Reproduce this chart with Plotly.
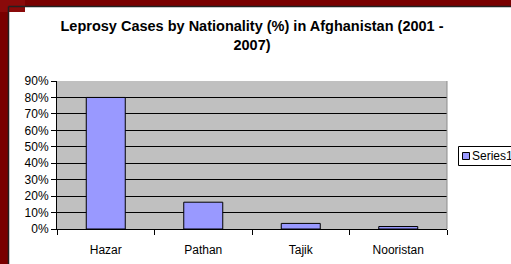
import plotly.graph_objects as go

categories = ["Hazar", "Pathan", "Tajik", "Nooristan"]
values = [0.80, 0.163, 0.034, 0.015]
series_name = "Series1"
y_ticks = [0, 0.1, 0.2, 0.3, 0.4, 0.5, 0.6, 0.7, 0.8, 0.9]

W, H = 511, 264
L, R, T, B = 57, 64, 81, 35
pw, ph = W - L - R, H - T - B

def px_x(x):
    return (x - L) / pw

def px_y(y):
    return (H - B - y) / ph

fig = go.Figure()
fig.add_trace(go.Bar(
    x=categories, y=values, name=series_name,
    marker=dict(color="#9999ff", line=dict(color="#000000", width=1)),
    showlegend=False,
))

red = "#790000"
shapes = [
    dict(type="rect", xref="paper", yref="paper", x0=px_x(0), x1=px_x(8), y0=px_y(H), y1=px_y(0),
         fillcolor=red, line=dict(width=0), layer="above"),
    dict(type="rect", xref="paper", yref="paper", x0=px_x(0), x1=px_x(W), y0=px_y(6), y1=px_y(0),
         fillcolor=red, line=dict(width=0), layer="above"),
    dict(type="rect", xref="paper", yref="paper", x0=px_x(0), x1=px_x(25), y0=px_y(12), y1=px_y(0),
         fillcolor="#8a0a0a", line=dict(width=0), layer="above"),
    dict(type="line", xref="paper", yref="paper", x0=px_x(8.5), x1=px_x(8.5), y0=px_y(H), y1=px_y(6.5),
         line=dict(color="#222222", width=1.5), layer="above"),
    dict(type="line", xref="paper", yref="paper", x0=px_x(8.5), x1=px_x(W), y0=px_y(6.5), y1=px_y(6.5),
         line=dict(color="#222222", width=1.5), layer="above"),
    dict(type="line", xref="paper", yref="paper", x0=1, x1=1, y0=0, y1=1,
         line=dict(color="#8c8c8c", width=1), layer="above"),
    # legend box and swatch
    dict(type="rect", xref="paper", yref="paper", x0=px_x(458.5), x1=px_x(520), y0=px_y(165.5), y1=px_y(146.5),
         fillcolor="white", line=dict(color="black", width=1), layer="above"),
    dict(type="rect", xref="paper", yref="paper", x0=px_x(462.5), x1=px_x(469.5), y0=px_y(159.5), y1=px_y(152.5),
         fillcolor="#9999ff", line=dict(color="black", width=1), layer="above"),
]

annotations = [
    dict(text=series_name, xref="paper", yref="paper", x=px_x(470), y=px_y(156),
         xanchor="left", yanchor="middle", showarrow=False,
         font=dict(size=12, family="Liberation Sans, Arial, sans-serif", color="black")),
]

fig.update_layout(
    width=W, height=H,
    margin=dict(l=L, r=R, t=T, b=B, pad=0, autoexpand=False),
    paper_bgcolor="white",
    plot_bgcolor="#c0c0c0",
    font=dict(family="Liberation Sans, Arial, sans-serif", size=12, color="black"),
    title=dict(
        text="<b>Leprosy Cases by Nationality (%) in Afghanistan (2001 -<br>2007)</b>",
        x=0.5, xref="paper", xanchor="center",
        y=1 - 31 / H, yanchor="top",
        font=dict(size=14.5, family="Liberation Sans, Arial, sans-serif"),
    ),
    bargap=0.6,
    showlegend=False,
    shapes=shapes,
    annotations=annotations,
)

fig.update_xaxes(
    type="category", tickson="boundaries", ticks="outside", ticklen=5,
    tickcolor="black", showline=True, linecolor="black", linewidth=1,
    showgrid=False, ticklabelstandoff=10,
)
fig.update_yaxes(
    range=[0, 0.9], tickvals=y_ticks, tickformat=".0%", ticks="outside", ticklen=5,
    tickcolor="black", showline=True, linecolor="black", linewidth=1,
    showgrid=True, gridcolor="black", gridwidth=1, zeroline=False,
)

fig.write_html(
    "out.html",
    config={"displayModeBar": False},
    post_script="document.body.style.margin='0';document.body.style.padding='0';document.body.style.overflow='hidden';",
)
